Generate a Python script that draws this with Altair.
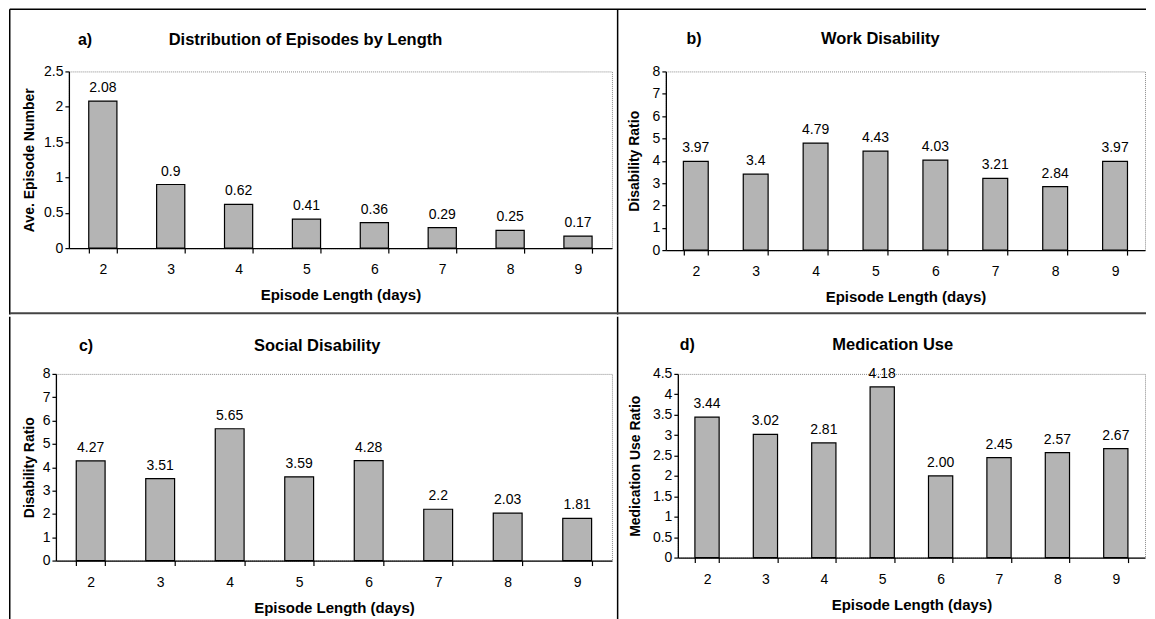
import altair as alt
import pandas as pd

# ---------------- data ----------------
categories = ["2", "3", "4", "5", "6", "7", "8", "9"]
episodes = [2.08, 0.9, 0.62, 0.41, 0.36, 0.29, 0.25, 0.17]
work_disability = [3.97, 3.4, 4.79, 4.43, 4.03, 3.21, 2.84, 3.97]
social_disability = [4.27, 3.51, 5.65, 3.59, 4.28, 2.2, 2.03, 1.81]
medication_use = [3.44, 3.02, 2.81, 4.18, 2.00, 2.45, 2.57, 2.67]

ticks_a = [0, 0.5, 1, 1.5, 2, 2.5]
ticks_bc = [0, 1, 2, 3, 4, 5, 6, 7, 8]
ticks_d = [0, 0.5, 1, 1.5, 2, 2.5, 3, 3.5, 4, 4.5]

x_title = "Episode Length (days)"

FONT = "Liberation Sans"
BAR_FILL = "#b4b4b4"


def panel(values, fmt, ytitle, ymax, yticks, width, height, letter, title,
          letter_xy, title_xy, ytitle_x, xtitle_y):
    df = pd.DataFrame({"cat": categories, "val": values})
    x = alt.X(
        "cat:N", sort=categories,
        scale=alt.Scale(paddingInner=0.585, paddingOuter=0.2925),
        axis=alt.Axis(title=x_title, labelAngle=0, tickBand="extent",
                      tickSize=5, labelPadding=9.5, titleY=xtitle_y,
                      titleBaseline="middle", titleFontSize=15,
                      labelOverlap=False),
    )
    y = alt.Y(
        "val:Q",
        scale=alt.Scale(domain=[0, ymax], nice=False, zero=True),
        axis=alt.Axis(title=ytitle, values=yticks, format="~g", tickSize=4,
                      labelPadding=2, grid=False, titleX=ytitle_x,
                      titleBaseline="middle", titleFontSize=14,
                      labelOverlap=False, labelFlush=False),
    )
    base = alt.Chart(df).encode(x=x, y=y)
    bars = base.mark_bar(fill=BAR_FILL, stroke="black", strokeWidth=1.2)
    labels = base.mark_text(font=FONT, fontSize=14, baseline="alphabetic", dy=-9,
                            color="black").encode(text=alt.Text("val:Q", format=fmt))
    lt = alt.Chart(pd.DataFrame({"t": [letter]})).mark_text(
        font=FONT, fontSize=16, fontWeight="bold", align="left", baseline="middle",
        color="black").encode(text="t:N", x=alt.value(letter_xy[0]), y=alt.value(letter_xy[1]))
    tt = alt.Chart(pd.DataFrame({"t": [title]})).mark_text(
        font=FONT, fontSize=16.5, fontWeight="bold", align="center", baseline="middle",
        color="black").encode(text="t:N", x=alt.value(title_xy[0]), y=alt.value(title_xy[1]))
    return alt.layer(bars, labels, lt, tt).properties(
        width=width, height=height,
        view=alt.ViewBackground(stroke="#8a8a8a", strokeDash=[1, 1], strokeWidth=1),
    )


def spacer(w):
    return alt.Chart(pd.DataFrame({"k": [0]})).mark_point(opacity=0).encode(
        x=alt.value(0), y=alt.value(0)
    ).properties(width=w, height=1, view=alt.ViewBackground(strokeOpacity=0))


def rule(x, x2, y, y2, color, w, opacity=1):
    return alt.Chart(pd.DataFrame({"k": [0]})).mark_rule(
        color=color, strokeWidth=w, opacity=opacity).encode(
        x=alt.value(x), x2=alt.value(x2), y=alt.value(y), y2=alt.value(y2))


# frame pieces drawn in the first (spacer) cell of each row
frame_top = alt.layer(
    spacer(14),
    rule(-45.25, -45.25, -62.25, 243.5, "black", 1.5),  # left border
    rule(-45.25, 1093, -62.25, -62.25, "black", 1.5),   # top border
    rule(563.7, 563.7, -62.25, 243.5, "black", 1.5),    # vertical divider
    rule(-45.25, 1093, 242.3, 242.3, "#444444", 2),     # horizontal divider
).properties(width=14, height=1, view=alt.ViewBackground(strokeOpacity=0))

frame_bottom = alt.layer(
    spacer(1),
    rule(-45, 1000, -57.5, -57.5, "white", 1, 0),       # invisible row anchor
    rule(-45.25, -45.25, -57.25, 246, "black", 1.5),    # left border
    rule(563.7, 563.7, -57.25, 246, "black", 1.5),      # vertical divider
).properties(width=1, height=1, view=alt.ViewBackground(strokeOpacity=0))

pa = panel(episodes, ".2~f", "Ave. Episode Number", 2.5, ticks_a, 544, 177,
           "a)", "Distribution of Episodes by Length", (9, -31), (237, -31), -39.5, 46.7)
pb = panel(work_disability, ".2~f", "Disability Ratio", 8, ticks_bc, 480, 179,
           "b)", "Work Disability", (20.7, -32), (214.8, -32), -30.9, 46.7)
pc = panel(social_disability, ".2~f", "Disability Ratio", 8, ticks_bc, 557, 187,
           "c)", "Social Disability", (23, -28), (261.7, -28), -26.9, 46.7)
pd_ = panel(medication_use, ".2f", "Medication Use Ratio", 4.5, ticks_d, 468, 184,
            "d)", "Medication Use", (2, -29), (215.3, -29), -42.6, 46.7)

row1 = alt.hconcat(frame_top, pa, spacer(54), pb, spacing=0, bounds="flush")
row2 = alt.hconcat(frame_bottom, pc, spacer(66), pd_, spacing=0, bounds="flush")

chart = alt.vconcat(row1, row2, spacing=0).properties(padding=0).configure_axis(
    domainColor="black", domainWidth=1.3, tickColor="black", tickWidth=1.2,
    labelFont=FONT, labelFontSize=14, labelColor="black", labelOverlap=False,
    titleFont=FONT, titleFontWeight="bold", titleColor="black",
).configure_text(font=FONT)

chart.save("out.html", embed_options={"renderer": "svg", "actions": False})
